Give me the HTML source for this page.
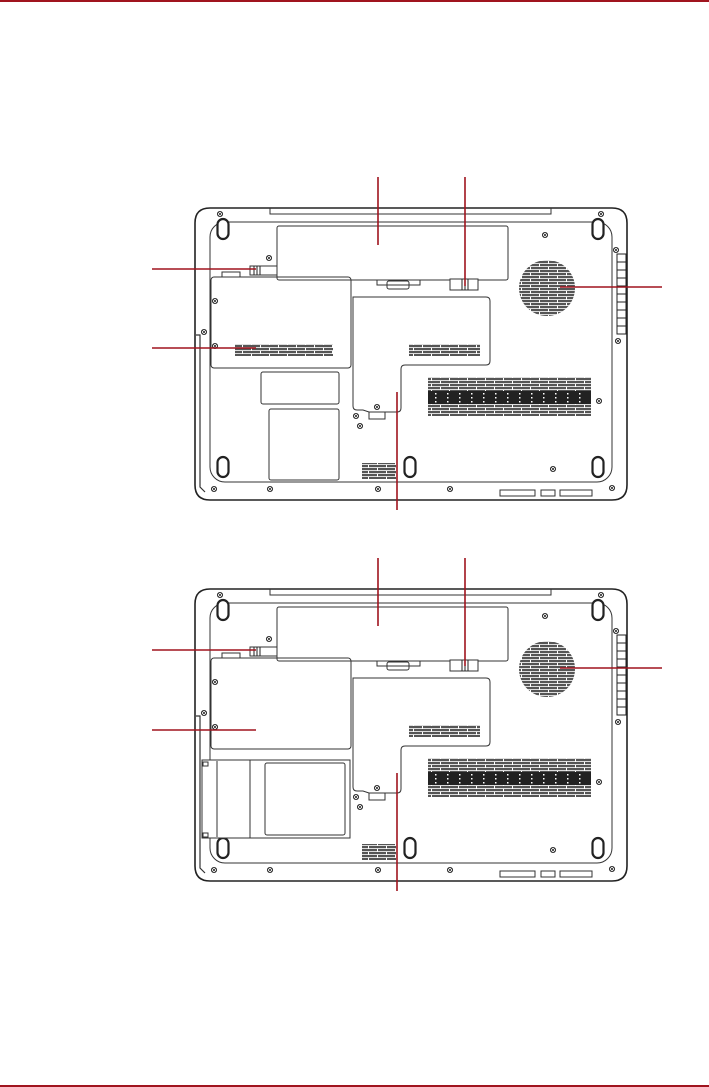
<!DOCTYPE html>
<html><head><style>
html,body{margin:0;padding:0;background:#fff;width:709px;height:1087px;overflow:hidden}
</style></head><body>
<svg width="709" height="1087" viewBox="0 0 709 1087" xmlns="http://www.w3.org/2000/svg">
<defs>
<pattern id="vp" width="18" height="6" patternUnits="userSpaceOnUse">
<rect width="18" height="6" fill="#fff"/><rect x="0" y="0" width="17" height="2.2" fill="#555"/><rect x="-9" y="3" width="17" height="2.2" fill="#555"/><rect x="9" y="3" width="17" height="2.2" fill="#555"/>
</pattern>
<pattern id="vd" width="12" height="4" patternUnits="userSpaceOnUse">
<rect width="12" height="4" fill="#222"/><rect x="3" y="1" width="1.5" height="1.5" fill="#fff"/>
</pattern>
<g id="scr"><circle r="2.6" fill="#fff" stroke="#222" stroke-width="0.9"/><path d="M-1.5-1.5L1.5 1.5M1.5-1.5L-1.5 1.5" stroke="#222" stroke-width="0.8"/></g>
<g id="foot"><rect x="-5.5" y="-10" width="11" height="20" rx="5.5" fill="#fff" stroke="#222" stroke-width="2.2"/></g>
<g id="base" fill="none" stroke="#333" stroke-width="1">
<path d="M210 208 H612 Q627 208 627 223 V485 Q627 500 612 500 H210 Q195 500 195 485 V223 Q195 208 210 208Z" stroke="#222" stroke-width="1.6"/>
<path d="M270 208 V214 H551 V208"/>
<rect x="210" y="222" width="402" height="260" rx="15"/>
<rect x="277" y="226" width="231" height="54" rx="2"/>
<path d="M377 280 V285 H420 V280"/>
<rect x="387" y="281" width="22" height="8" rx="2"/>
<rect x="250" y="266" width="27" height="9" fill="#fff"/>
<path d="M254 266V275M257 266V275M260 266V275" stroke="#222"/>
<rect x="450" y="279" width="28" height="11" fill="#fff"/>
<path d="M462 279V290M465 279V290M468 279V290" stroke="#222"/>
<path d="M222 277 V272 H240 V277"/>
<path d="M353 297 H486 Q490 297 490 301 V361 Q490 365 486 365 H405 Q401 365 401 369 V408 Q401 412 397 412 H369 L363 410 H357 Q353 410 353 406 Z"/>
<rect x="369" y="412" width="16" height="7"/>
<rect x="409" y="344" width="71" height="12" fill="url(#vp)" stroke="none"/>
<rect x="428" y="377" width="163" height="39" fill="url(#vp)" stroke="none"/>
<rect x="428" y="391" width="163" height="13" fill="url(#vd)" stroke="none"/>
<circle cx="547" cy="288" r="28" fill="url(#vp)" stroke="none"/>
<rect x="362" y="463" width="34" height="16" fill="url(#vp)" stroke="none"/>
<rect x="617" y="254" width="9" height="80" fill="#fff" stroke="#222"/>
<path d="M617 262H626M617 270H626M617 278H626M617 286H626M617 294H626M617 302H626M617 310H626M617 318H626M617 326H626" stroke="#222"/>
<path d="M196 335 H200 V487 L205 492" stroke-width="1.2"/>
<rect x="500" y="490" width="35" height="6"/><rect x="541" y="490" width="14" height="6"/><rect x="560" y="490" width="32" height="6"/>
<use href="#foot" x="223" y="229"/><use href="#foot" x="598" y="229"/><use href="#foot" x="223" y="467"/><use href="#foot" x="410" y="467"/><use href="#foot" x="598" y="467"/>
<use href="#scr" x="220" y="214"/><use href="#scr" x="601" y="214"/><use href="#scr" x="545" y="235"/><use href="#scr" x="269" y="258"/>
<use href="#scr" x="616" y="250"/><use href="#scr" x="618" y="341"/><use href="#scr" x="215" y="301"/><use href="#scr" x="215" y="346"/>
<use href="#scr" x="204" y="332"/><use href="#scr" x="377" y="407"/><use href="#scr" x="356" y="416"/><use href="#scr" x="360" y="426"/>
<use href="#scr" x="599" y="401"/><use href="#scr" x="553" y="469"/><use href="#scr" x="214" y="489"/><use href="#scr" x="270" y="489"/>
<use href="#scr" x="378" y="489"/><use href="#scr" x="450" y="489"/><use href="#scr" x="612" y="488"/>
</g>
</defs>
<rect x="0" y="0" width="709" height="2" fill="#a0141e"/>
<rect x="0" y="1085" width="709" height="2" fill="#a0141e"/>

<use href="#base"/>
<g fill="none" stroke="#333">
<rect x="211" y="277" width="140" height="91" rx="3"/>
<rect x="261" y="372" width="78" height="32" rx="2"/>
<rect x="269" y="409" width="70" height="71" rx="2"/>
</g>
<rect x="235" y="344" width="98" height="12" fill="url(#vp)"/>

<g transform="translate(0,381)">
<use href="#base"/>
<g fill="none" stroke="#333">
<rect x="211" y="277" width="140" height="91" rx="3"/>
<rect x="202" y="379" width="148" height="78" fill="#fff"/>
<rect x="265" y="382" width="80" height="72" rx="2"/>
<path d="M250 379 V457 M217 380 V456"/>
<rect x="203" y="381" width="5" height="4"/><rect x="203" y="452" width="5" height="4"/>
</g>
</g>

<g stroke="#a0141e" stroke-width="1.6" fill="none">
<path d="M378 177V245M465 177V286M152 269H256M152 348H256M560 287H662M397 392V510"/>
<path d="M378 558V626M465 558V666M152 650H256M152 730H256M560 668H662M397 773V891"/>
</g>
</svg>
</body></html>
